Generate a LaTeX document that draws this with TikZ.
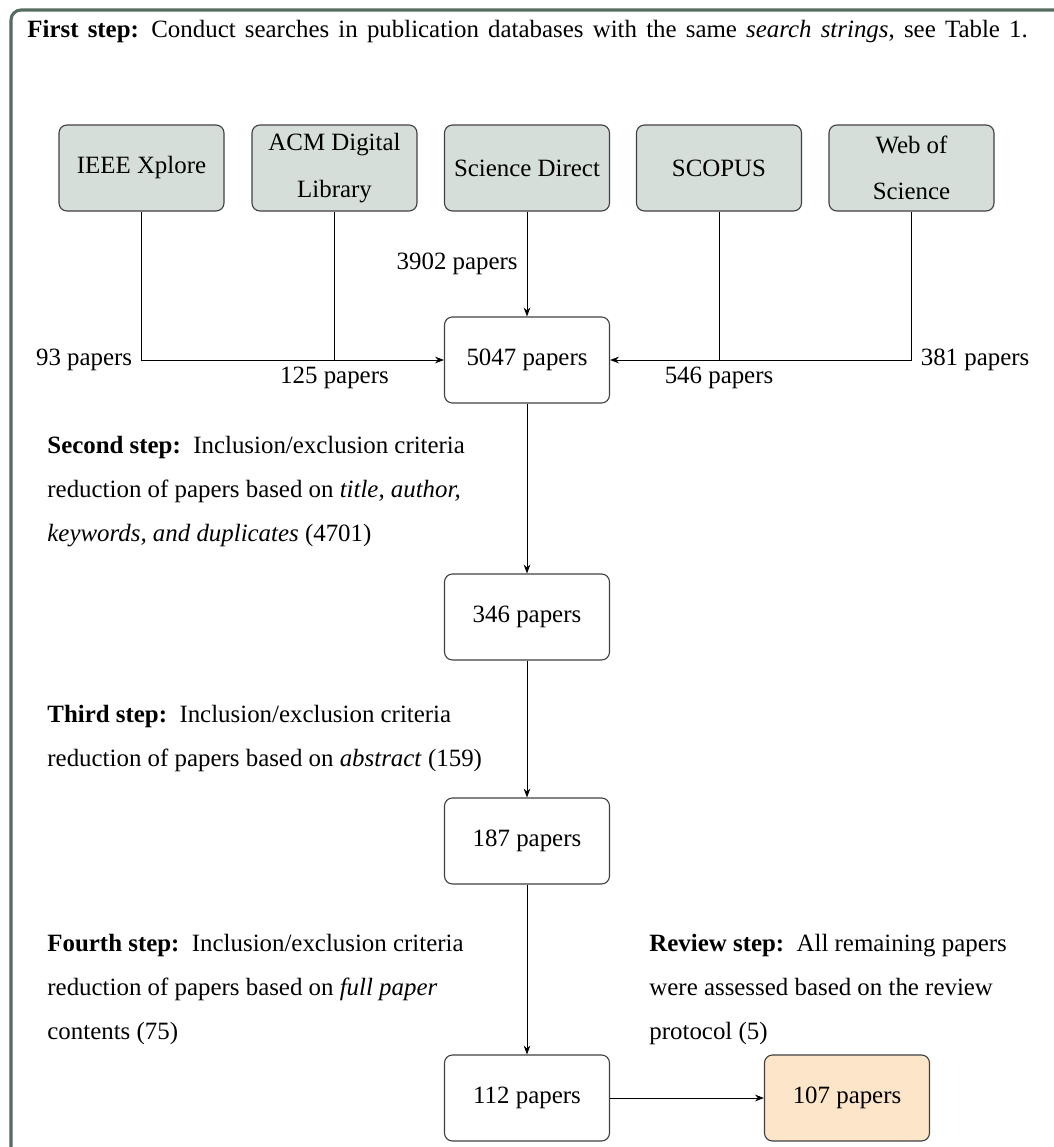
\documentclass[tikz,border=0pt]{standalone}
\usepackage{fontspec}
\setmainfont{Liberation Serif}
\usetikzlibrary{arrows.meta}
\definecolor{framec}{RGB}{86,108,96}
\definecolor{dbfill}{RGB}{213,222,216}
\definecolor{finfill}{RGB}{253,229,201}
\tikzset{
  box/.style={draw=black!75, line width=0.5pt, rounded corners=3.6pt,
    minimum width=74.25pt, minimum height=38.7pt, align=center, inner sep=2pt,
    font=\fontsize{11.2}{21}\selectfont},
  dbbox/.style={box, fill=dbfill},
  finbox/.style={box, fill=finfill},
  conn/.style={line width=0.4pt, draw=black},
  arr/.style={conn, -{Stealth[length=4pt,width=3pt]}},
  steptext/.style={anchor=west, align=left, inner sep=0pt,
    font=\fontsize{11.2}{19.8}\selectfont},
  lbl/.style={inner sep=2pt, font=\fontsize{11.2}{13}\selectfont},
  sidelbl/.style={lbl, inner sep=4pt}
}
\begin{document}
\begin{tikzpicture}[x=0.45pt,y=-0.45pt]
\clip (0,0) rectangle (1054,1147);
\draw[framec, line width=1.4pt, rounded corners=4.5pt] (11,10) rectangle (1090,1190);

\node[steptext] (title) at (27,32) {\spaceskip=0.37em plus 0.1em\textbf{First step:}\hspace{0.5em}Conduct searches in publication databases with the same \textit{search strings}, see Table 1.};

\node[dbbox] (ieee) at (141.5,168) {IEEE Xplore};
\node[dbbox] (acm) at (334.5,168) {ACM Digital\\Library};
\node[dbbox] (sd) at (527,168) {Science Direct};
\node[dbbox] (scopus) at (719,168) {SCOPUS};
\node[dbbox] (wos) at (911.5,168) {Web of\\Science};

\node[box] (b5047) at (527,360) {5047 papers};
\node[box] (b346) at (527,617) {346 papers};
\node[box] (b187) at (527,841) {187 papers};
\node[box] (b112) at (527,1098) {112 papers};
\node[finbox] (b107) at (847,1098) {107 papers};

\coordinate (jacm) at (acm |- b5047);
\coordinate (jscopus) at (scopus |- b5047);

\draw[arr] (ieee) |- node[sidelbl, pos=0.5, left] {93 papers} (b5047);
\draw[conn] (acm) -- (jacm) node[lbl, below, yshift=-1pt] {125 papers};
\draw[arr] (sd) -- node[sidelbl, left] {3902 papers} (b5047);
\draw[conn] (scopus) -- (jscopus) node[lbl, below, yshift=-1pt] {546 papers};
\draw[arr] (wos) |- node[sidelbl, pos=0.5, right] {381 papers} (b5047);

\draw[arr] (b5047) -- (b346);
\draw[arr] (b346) -- (b187);
\draw[arr] (b187) -- (b112);
\draw[arr] (b112) -- (b107);

\node[steptext] (s2) at (47,492) {\textbf{Second step:}\hspace{0.5em}Inclusion/exclusion criteria\\reduction of papers based on \textit{title, author,}\\\textit{keywords, and duplicates} (4701)};
\node[steptext] (s3) at (47,739) {\textbf{Third step:}\hspace{0.5em}Inclusion/exclusion criteria\\reduction of papers based on \textit{abstract} (159)};
\node[steptext] (s4) at (47,989) {\textbf{Fourth step:}\hspace{0.5em}Inclusion/exclusion criteria\\reduction of papers based on \textit{full paper}\\contents (75)};
\node[steptext] (sr) at (649,989) {\textbf{Review step:}\hspace{0.5em}All remaining papers\\were assessed based on the review\\protocol (5)};
\end{tikzpicture}
\end{document}
